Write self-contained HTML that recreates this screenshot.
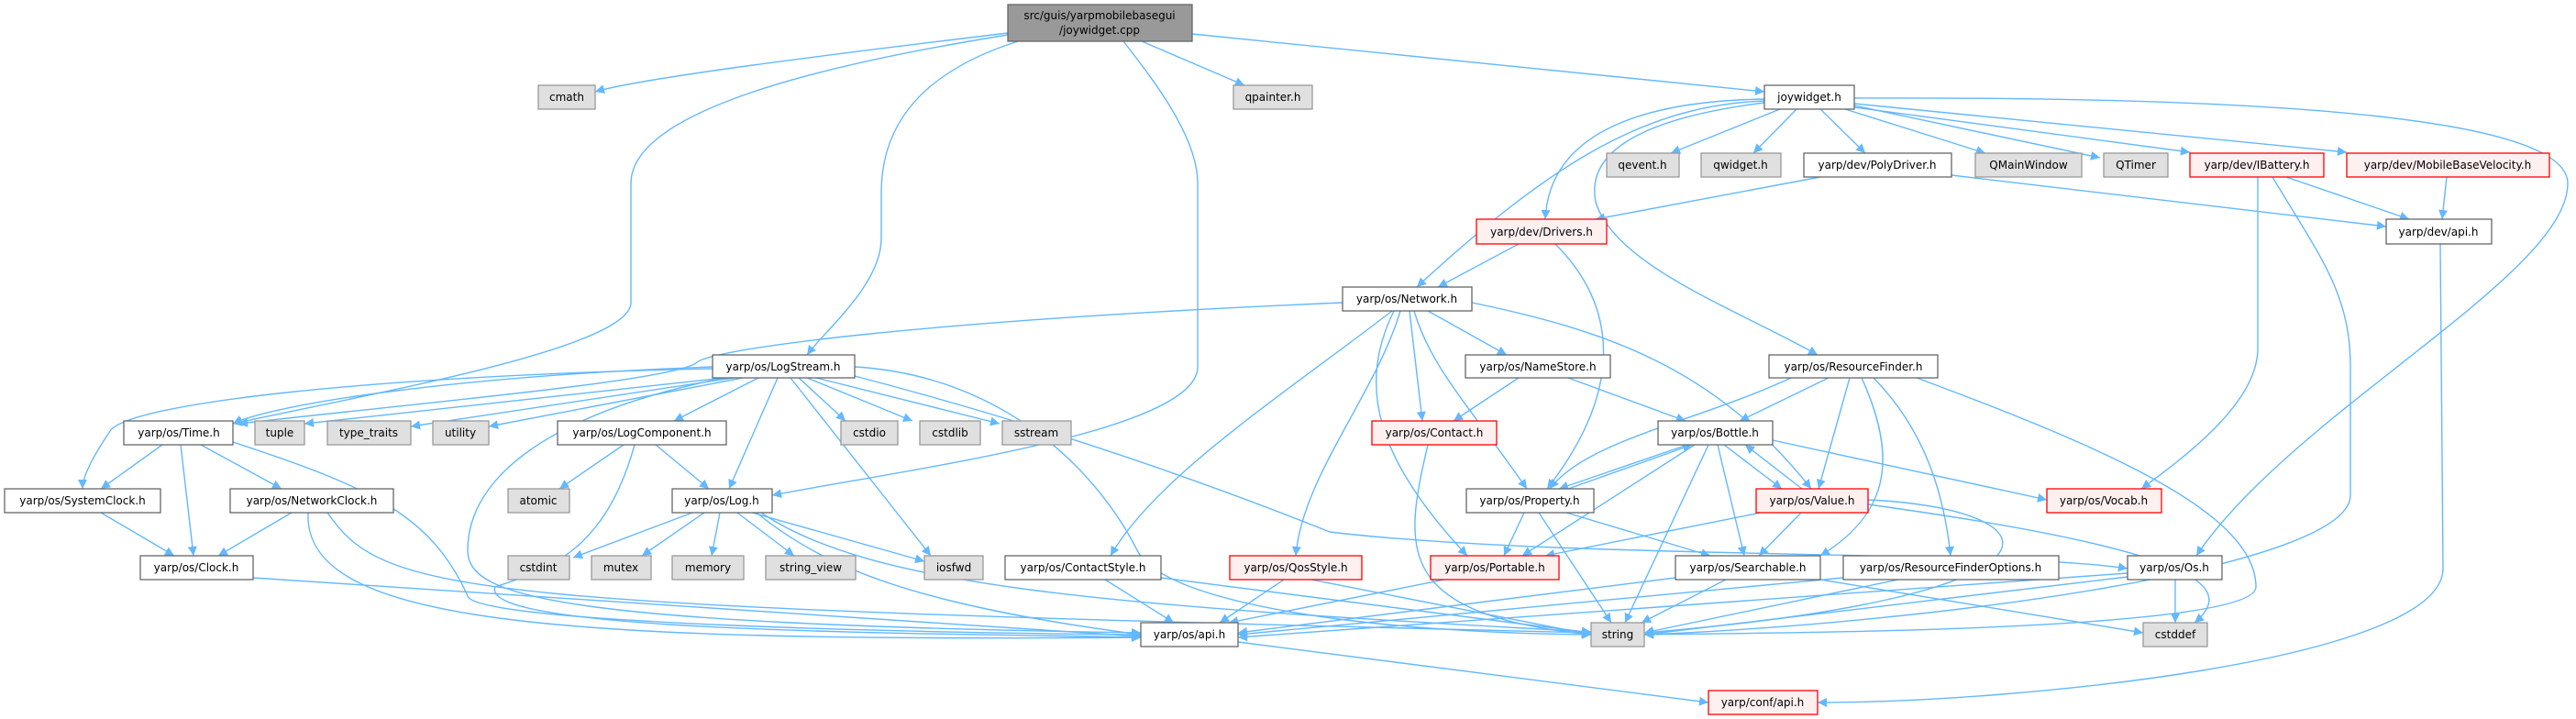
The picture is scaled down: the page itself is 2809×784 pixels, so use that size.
<!DOCTYPE html>
<html><head><meta charset="utf-8"><style>
html,body{margin:0;padding:0;background:#fff;}
svg{display:block;}
text{font-family:"DejaVu Sans","Liberation Sans",sans-serif;font-size:12px;fill:#000;text-anchor:middle;}
.e{fill:none;stroke:#63b8ff;stroke-width:1.4;marker-end:url(#a);}
.w{fill:#fff;stroke:#666;stroke-width:1.3;}
.g{fill:#e0e0e0;stroke:#999;stroke-width:1.3;}
.r{fill:#fff0f0;stroke:#f00;stroke-width:1.3;}
.k{fill:#999;stroke:#666;stroke-width:1.3;}
</style></head><body>
<svg width="2809" height="784" viewBox="0 0 2809 784" xmlns="http://www.w3.org/2000/svg">
<defs><marker id="a" viewBox="0 0 10 10" refX="10" refY="5" markerWidth="12" markerHeight="10" orient="auto" markerUnits="userSpaceOnUse"><path d="M0,0 L10,5 L0,10 z" fill="#63b8ff"/></marker></defs>
<g>
<path class="e" d="M1099,36 C900,60 700,85 649,100"/>
<path class="e" d="M1099,38 C900,70 688,120 688,200 L688,330 C688,380 400,430 254,462"/>
<path class="e" d="M1110,45 C1000,80 961,140 961,210 L961,260 C961,310 900,360 880,387"/>
<path class="e" d="M1225,45 C1260,90 1306,150 1306,200 L1306,400 C1306,470 1000,510 842,540"/>
<path class="e" d="M1245,45 L1357,93"/>
<path class="e" d="M1300,37 L1924,100"/>
<path class="e" d="M1941,119 L1822,167"/>
<path class="e" d="M1959,119 L1912,167"/>
<path class="e" d="M1985,119 L2034,167"/>
<path class="e" d="M2012,119 L2165,167"/>
<path class="e" d="M2022,115 L2290,172"/>
<path class="e" d="M2022,117 L2388,166"/>
<path class="e" d="M2022,113 L2559,166"/>
<path class="e" d="M1924,108 C1800,110 1690,140 1685,239"/>
<path class="e" d="M1924,110 C1800,115 1700,170 1545,313"/>
<path class="e" d="M1924,112 C1780,130 1730,170 1740,220 C1760,290 1900,340 1982,387"/>
<path class="e" d="M2022,107 C2500,105 2800,130 2800,200 C2800,300 2500,450 2395,606"/>
<path class="e" d="M1985,193 L1740,239"/>
<path class="e" d="M2128,191 L2602,247"/>
<path class="e" d="M2493,193 L2627,239"/>
<path class="e" d="M2462,193 L2462,380 C2462,440 2380,500 2335,533"/>
<path class="e" d="M2478,193 C2530,280 2563,320 2563,400 L2563,540 C2563,620 2100,680 1793,692"/>
<path class="e" d="M2668,193 L2663,239"/>
<path class="e" d="M2661,266 L2664,620 C2664,720 2200,766 1982,766"/>
<path class="e" d="M1656,266 L1568,313"/>
<path class="e" d="M1696,266 C1760,330 1775,420 1687,533"/>
<path class="e" d="M1464,330 C1000,350 780,380 760,395 C740,415 450,440 260,462"/>
<path class="e" d="M1557,339 L1643,387"/>
<path class="e" d="M1537,339 L1551,459"/>
<path class="e" d="M1542,339 C1560,400 1600,440 1665,533"/>
<path class="e" d="M1520,339 C1480,420 1500,500 1600,606"/>
<path class="e" d="M1605,330 C1750,360 1870,400 1975,533"/>
<path class="e" d="M1518,339 C1400,430 1260,520 1211,606"/>
<path class="e" d="M1527,339 C1500,430 1420,520 1413,606"/>
<path class="e" d="M1656,412 L1585,459"/>
<path class="e" d="M1710,412 L1838,459"/>
<path class="e" d="M1994,412 L1897,459"/>
<path class="e" d="M1953,412 C1850,460 1730,480 1690,533"/>
<path class="e" d="M2017,412 L1983,533"/>
<path class="e" d="M2030,412 C2070,500 2060,560 1985,606"/>
<path class="e" d="M2043,412 C2100,470 2120,540 2127,606"/>
<path class="e" d="M2090,412 C2300,490 2460,560 2460,640 C2460,690 1900,690 1793,692"/>
<path class="e" d="M1557,485 C1530,600 1520,670 1735,692"/>
<path class="e" d="M1840,485 L1700,533"/>
<path class="e" d="M1710,533 L1845,485"/>
<path class="e" d="M1880,485 L1943,533"/>
<path class="e" d="M1965,533 L1903,485"/>
<path class="e" d="M1933,480 L2232,545"/>
<path class="e" d="M1848,485 L1660,606"/>
<path class="e" d="M1873,485 L1902,606"/>
<path class="e" d="M1863,485 L1772,679"/>
<path class="e" d="M1662,559 L1640,606"/>
<path class="e" d="M1678,559 L1757,679"/>
<path class="e" d="M1708,559 L1865,606"/>
<path class="e" d="M1920,559 L1685,606"/>
<path class="e" d="M1964,559 L1918,606"/>
<path class="e" d="M2037,545 C2250,555 2280,650 1793,690"/>
<path class="e" d="M2037,550 C2400,600 2440,640 2393,679"/>
<path class="e" d="M1882,632 L1790,679"/>
<path class="e" d="M1827,630 L1350,690"/>
<path class="e" d="M1985,632 L2337,690"/>
<path class="e" d="M2070,632 L1793,690"/>
<path class="e" d="M2010,630 L1350,692"/>
<path class="e" d="M2320,629 L1793,692"/>
<path class="e" d="M2372,632 L2372,679"/>
<path class="e" d="M2320,625 L1350,695"/>
<path class="e" d="M1575,632 L1340,679"/>
<path class="e" d="M1400,632 L1330,679"/>
<path class="e" d="M1430,632 L1735,692"/>
<path class="e" d="M1205,632 L1280,679"/>
<path class="e" d="M1266,630 L1735,690"/>
<path class="e" d="M1350,700 L1863,766"/>
<path class="e" d="M777,400 C500,410 300,440 254,462"/>
<path class="e" d="M790,412 L332,462"/>
<path class="e" d="M800,412 L448,465"/>
<path class="e" d="M810,412 L533,465"/>
<path class="e" d="M827,412 L735,459"/>
<path class="e" d="M871,412 L922,459"/>
<path class="e" d="M880,412 L995,459"/>
<path class="e" d="M890,412 L1090,462"/>
<path class="e" d="M848,412 L795,533"/>
<path class="e" d="M862,412 L1015,606"/>
<path class="e" d="M932,400 C1100,410 1200,520 1240,600 C1270,660 1500,690 1735,692"/>
<path class="e" d="M932,410 C1200,480 1400,560 1450,580 C1700,610 2200,600 2320,620"/>
<path class="e" d="M790,412 C600,450 510,520 510,600 C510,650 600,680 1244,690"/>
<path class="e" d="M777,402 C400,410 140,440 120,470 C100,500 90,520 90,533"/>
<path class="e" d="M177,485 L110,533"/>
<path class="e" d="M197,485 L211,606"/>
<path class="e" d="M219,485 L307,533"/>
<path class="e" d="M254,482 C400,530 470,560 510,650 C520,680 1000,690 1244,692"/>
<path class="e" d="M110,559 L190,606"/>
<path class="e" d="M318,559 L238,606"/>
<path class="e" d="M336,559 C330,680 600,700 1244,695"/>
<path class="e" d="M357,559 C420,650 500,660 1735,690"/>
<path class="e" d="M276,630 L1244,694"/>
<path class="e" d="M680,485 L610,533"/>
<path class="e" d="M715,485 L773,533"/>
<path class="e" d="M692,485 C660,600 600,620 540,640 C520,690 1000,690 1244,695"/>
<path class="e" d="M755,559 L625,608"/>
<path class="e" d="M768,559 L700,606"/>
<path class="e" d="M785,559 L776,606"/>
<path class="e" d="M804,559 L866,606"/>
<path class="e" d="M820,559 L1008,612"/>
<path class="e" d="M825,559 C900,620 1000,660 1244,692"/>
<path class="e" d="M830,559 C950,640 1200,660 1735,689"/>
</g>
<g>
<rect class="k" x="1099" y="5" width="201" height="40"/>
<text x="1199" y="21">src/guis/yarpmobilebasegui</text><text x="1199" y="37">/joywidget.cpp</text>
<rect class="g" x="587" y="93" width="62" height="26"/><text x="618" y="110">cmath</text>
<rect class="g" x="1345" y="93" width="86" height="26"/><text x="1388" y="110">qpainter.h</text>
<rect class="w" x="1924" y="93" width="98" height="26"/><text x="1973" y="110">joywidget.h</text>
<rect class="g" x="1752" y="167" width="79" height="26"/><text x="1791" y="184">qevent.h</text>
<rect class="g" x="1855" y="167" width="87" height="26"/><text x="1898" y="184">qwidget.h</text>
<rect class="w" x="1967" y="167" width="161" height="26"/><text x="2047" y="184">yarp/dev/PolyDriver.h</text>
<rect class="g" x="2154" y="167" width="116" height="26"/><text x="2212" y="184">QMainWindow</text>
<rect class="g" x="2294" y="167" width="70" height="26"/><text x="2329" y="184">QTimer</text>
<rect class="r" x="2388" y="167" width="146" height="26"/><text x="2461" y="184">yarp/dev/IBattery.h</text>
<rect class="r" x="2559" y="167" width="221" height="26"/><text x="2669" y="184">yarp/dev/MobileBaseVelocity.h</text>
<rect class="r" x="1610" y="239" width="142" height="27"/><text x="1681" y="257">yarp/dev/Drivers.h</text>
<rect class="w" x="2602" y="239" width="115" height="27"/><text x="2659" y="257">yarp/dev/api.h</text>
<rect class="w" x="1464" y="313" width="141" height="26"/><text x="1534" y="330">yarp/os/Network.h</text>
<rect class="w" x="1598" y="387" width="158" height="25"/><text x="1677" y="404">yarp/os/NameStore.h</text>
<rect class="w" x="1929" y="387" width="184" height="25"/><text x="2021" y="404">yarp/os/ResourceFinder.h</text>
<rect class="w" x="777" y="387" width="155" height="25"/><text x="854" y="404">yarp/os/LogStream.h</text>
<rect class="w" x="135" y="459" width="119" height="26"/><text x="195" y="476">yarp/os/Time.h</text>
<rect class="g" x="278" y="459" width="54" height="26"/><text x="305" y="476">tuple</text>
<rect class="g" x="357" y="459" width="91" height="26"/><text x="402" y="476">type_traits</text>
<rect class="g" x="472" y="459" width="61" height="26"/><text x="502" y="476">utility</text>
<rect class="w" x="608" y="459" width="184" height="26"/><text x="700" y="476">yarp/os/LogComponent.h</text>
<rect class="g" x="917" y="459" width="62" height="26"/><text x="948" y="476">cstdio</text>
<rect class="g" x="1003" y="459" width="66" height="26"/><text x="1036" y="476">cstdlib</text>
<rect class="g" x="1093" y="459" width="75" height="26"/><text x="1130" y="476">sstream</text>
<rect class="r" x="1496" y="459" width="136" height="26"/><text x="1564" y="476">yarp/os/Contact.h</text>
<rect class="w" x="1808" y="459" width="125" height="26"/><text x="1870" y="476">yarp/os/Bottle.h</text>
<rect class="w" x="5" y="533" width="170" height="26"/><text x="90" y="550">yarp/os/SystemClock.h</text>
<rect class="w" x="251" y="533" width="178" height="26"/><text x="340" y="550">yarp/os/NetworkClock.h</text>
<rect class="g" x="554" y="533" width="67" height="26"/><text x="587" y="550">atomic</text>
<rect class="w" x="733" y="533" width="109" height="26"/><text x="787" y="550">yarp/os/Log.h</text>
<rect class="w" x="1599" y="533" width="139" height="26"/><text x="1668" y="550">yarp/os/Property.h</text>
<rect class="r" x="1915" y="533" width="122" height="26"/><text x="1976" y="550">yarp/os/Value.h</text>
<rect class="r" x="2232" y="533" width="125" height="26"/><text x="2294" y="550">yarp/os/Vocab.h</text>
<rect class="w" x="153" y="606" width="123" height="26"/><text x="214" y="623">yarp/os/Clock.h</text>
<rect class="g" x="554" y="606" width="67" height="26"/><text x="587" y="623">cstdint</text>
<rect class="g" x="645" y="606" width="65" height="26"/><text x="677" y="623">mutex</text>
<rect class="g" x="733" y="606" width="78" height="26"/><text x="772" y="623">memory</text>
<rect class="g" x="835" y="606" width="98" height="26"/><text x="884" y="623">string_view</text>
<rect class="g" x="1008" y="606" width="64" height="26"/><text x="1040" y="623">iosfwd</text>
<rect class="w" x="1096" y="606" width="170" height="26"/><text x="1181" y="623">yarp/os/ContactStyle.h</text>
<rect class="r" x="1341" y="606" width="144" height="26"/><text x="1413" y="623">yarp/os/QosStyle.h</text>
<rect class="r" x="1560" y="606" width="140" height="26"/><text x="1630" y="623">yarp/os/Portable.h</text>
<rect class="w" x="1827" y="606" width="158" height="26"/><text x="1906" y="623">yarp/os/Searchable.h</text>
<rect class="w" x="2010" y="606" width="235" height="26"/><text x="2127" y="623">yarp/os/ResourceFinderOptions.h</text>
<rect class="w" x="2320" y="606" width="103" height="26"/><text x="2371" y="623">yarp/os/Os.h</text>
<rect class="w" x="1244" y="679" width="106" height="26"/><text x="1297" y="696">yarp/os/api.h</text>
<rect class="g" x="1735" y="679" width="58" height="26"/><text x="1764" y="696">string</text>
<rect class="g" x="2337" y="679" width="70" height="26"/><text x="2372" y="696">cstddef</text>
<rect class="r" x="1863" y="753" width="119" height="26"/><text x="1922" y="770">yarp/conf/api.h</text>
</g>
</svg>
</body></html>
